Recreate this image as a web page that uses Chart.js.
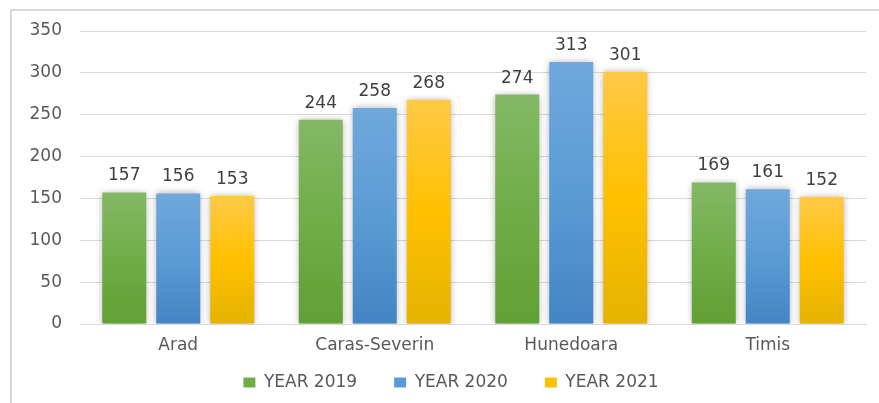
<!DOCTYPE html>
<html>
<head>
<meta charset="utf-8">
<script src="https://cdn.jsdelivr.net/npm/chart.js@4"></script>
<style>
    html, body { margin: 0; padding: 0; background: #fff; }
    .frame {
        position: absolute; left: 10px; top: 9px; width: 880px; height: 400px;
        border: 2px solid #d9d9d9; box-sizing: border-box;
    }
    .chart { position: absolute; left: 0; top: 0; width: 879px; height: 403px; }
</style>
</head>
<body>
<div class="frame"></div>
<div class="chart"><canvas id="myChart" width="879" height="403"></canvas></div>
<script>
const counties = ['Arad', 'Caras-Severin', 'Hunedoara', 'Timis'];
const year2019 = [157, 244, 274, 169];
const year2020 = [156, 258, 313, 161];
const year2021 = [153, 268, 301, 152];
const yTicks = [0, 50, 100, 150, 200, 250, 300, 350];

const FONT = "'DejaVu Sans', Verdana, sans-serif";

// per-bar vertical gradient, light on top and darker at the base
function barGradient(stops) {
    return (ctx) => {
        const chart = ctx.chart;
        const y = chart.scales.y;
        if (!y || ctx.raw === undefined) return stops[1];
        const top = y.getPixelForValue(ctx.raw);
        const base = y.getPixelForValue(0);
        if (!isFinite(top) || !isFinite(base) || top === base) return stops[1];
        const g = chart.ctx.createLinearGradient(0, top, 0, base);
        g.addColorStop(0, stops[0]);
        g.addColorStop(0.5, stops[1]);
        g.addColorStop(1, stops[2]);
        return g;
    };
}

const shadowPlugin = {
    id: 'barShadow',
    beforeDatasetsDraw(chart) {
        const ctx = chart.ctx;
        ctx.save();
        ctx.shadowColor = 'rgba(0,0,0,0.32)';
        ctx.shadowBlur = 7;
        ctx.shadowOffsetX = 0;
        ctx.shadowOffsetY = 0;
    },
    afterDatasetsDraw(chart) {
        chart.ctx.restore();
    },
};

const valueLabels = {
    id: 'valueLabels',
    afterDatasetsDraw(chart) {
        const ctx = chart.ctx;
        ctx.save();
        ctx.font = '17px ' + FONT;
        ctx.fillStyle = '#404040';
        ctx.textAlign = 'center';
        ctx.textBaseline = 'bottom';
        chart.data.datasets.forEach((ds, i) => {
            chart.getDatasetMeta(i).data.forEach((bar, j) => {
                ctx.fillText(ds.data[j], bar.x, bar.y - 8);
            });
        });
        ctx.restore();
    },
};

// legend gaps come from padding, so keep its box short and place it by hand
const legendFix = {
    id: 'legendFix',
    afterInit(chart) {
        const lg = chart.legend;
        if (!lg) return;
        const fit = lg.fit.bind(lg);
        lg.fit = function () {
            fit();
            this.height = 40;
        };
    },
    afterLayout(chart) {
        const x = chart.scales.x;
        x.bottom = x.top + 45;
        const lg = chart.legend;
        if (!lg) return;
        lg.top = 337;
        lg.bottom = 403;
        lg.height = 66;
        lg.left += 18;
        lg.right += 18;
    },
};

const ctx = document.getElementById('myChart').getContext('2d');
const chart = new Chart(ctx, {
    type: 'bar',
    data: {
        labels: counties,
        datasets: [
            {
                label: 'YEAR 2019',
                data: year2019,
                backgroundColor: barGradient(['#84b866', '#70ad47', '#61a034']),
            },
            {
                label: 'YEAR 2020',
                data: year2020,
                backgroundColor: barGradient(['#70a8dc', '#5b9bd5', '#4384c4']),
            },
            {
                label: 'YEAR 2021',
                data: year2021,
                backgroundColor: barGradient(['#ffc947', '#ffc000', '#e5b300']),
            },
        ],
    },
    options: {
        responsive: false,
        animation: false,
        devicePixelRatio: 1,
        categoryPercentage: 0.824,
        barPercentage: 0.815,
        layout: { padding: { left: 0, right: 13, top: 31, bottom: 27 } },
        plugins: {
            tooltip: { enabled: false },
            legend: {
                position: 'bottom',
                labels: {
                    font: { family: FONT, size: 17 },
                    color: '#595959',
                    boxWidth: 12,
                    boxHeight: 10,
                    padding: 37,
                    generateLabels(chart) {
                        const solid = ['#70ad47', '#5b9bd5', '#ffc000'];
                        return chart.data.datasets.map((ds, i) => ({
                            text: ds.label,
                            fillStyle: solid[i],
                            strokeStyle: solid[i],
                            lineWidth: 0,
                            datasetIndex: i,
                            fontColor: '#595959',
                        }));
                    },
                },
            },
        },
        scales: {
            x: {
                afterFit(scale) {
                    scale.height = 12;
                },
                grid: { display: false, drawTicks: false },
                border: { color: '#d9d9d9', width: 1 },
                ticks: {
                    font: { family: FONT, size: 17 },
                    color: '#595959',
                    padding: 11,
                },
            },
            y: {
                min: yTicks[0],
                max: yTicks[yTicks.length - 1],
                afterBuildTicks(scale) {
                    scale.ticks = yTicks.map((v) => ({ value: v }));
                },
                afterFit(scale) {
                    scale.width = 80;
                    scale.paddingTop = 0;
                    scale.paddingBottom = 0;
                },
                grid: { color: '#d9d9d9', drawTicks: false },
                border: { display: false },
                ticks: {
                    font: { family: FONT, size: 17 },
                    color: '#595959',
                    padding: 18,
                },
            },
        },
    },
    plugins: [shadowPlugin, valueLabels, legendFix],
});
</script>
</body>
</html>
